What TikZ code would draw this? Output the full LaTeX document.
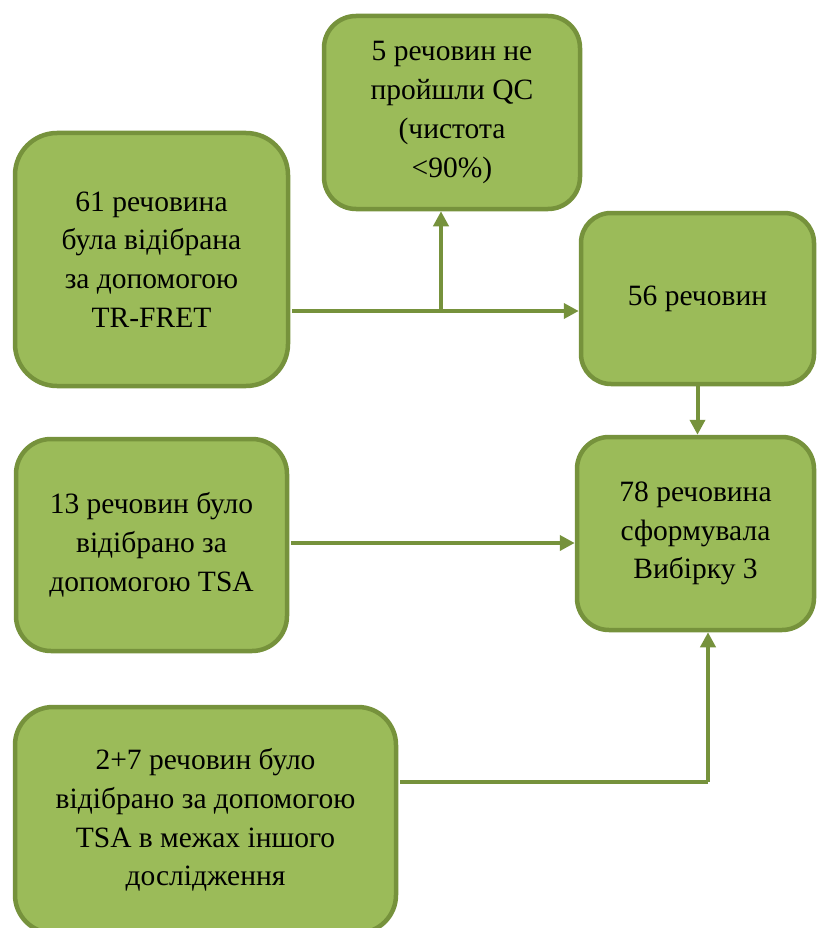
\documentclass[tikz,border=0pt]{standalone}
\usepackage{fontspec}
\setmainfont{Liberation Serif}
\usetikzlibrary{arrows.meta}
\definecolor{boxfill}{HTML}{9BBB59}
\definecolor{boxline}{HTML}{76923C}
\begin{document}
\begin{tikzpicture}[x=1pt,y=-1pt,
  box/.style={draw=boxline,fill=boxfill,line width=4.5pt,rounded corners=#1,
    align=center,inner sep=0pt,font=\fontsize{29.5}{38.8}\selectfont},
  box/.default=35pt,
  arr/.style={draw=boxline,line width=4pt,-{Triangle[length=15pt,width=15pt]}},
  ln/.style={draw=boxline,line width=4pt}]
\useasboundingbox (0,0) rectangle (817,928);
\node[box=42pt,minimum width=273pt,minimum height=253pt] (A) at (151.5,259.5)
  {61 речовина\\була відібрана\\за допомогою\\TR-FRET};
\node[box=32pt,minimum width=256pt,minimum height=193pt] (QC) at (452,112.5)
  {5 речовин не\\пройшли QC\\(чистота\\<90\%)};
\node[box=30pt,minimum width=233pt,minimum height=171pt] (B) at (697.5,298.5)
  {56 речовин};
\node[box=32pt,minimum width=237pt,minimum height=193pt] (C) at (695.5,533.5)
  {78 речовина\\сформувала\\Вибірку 3};
\node[box=35pt,minimum width=271pt,minimum height=212pt] (D) at (151.5,545)
  {13 речовин було\\відібрано за\\допомогою TSA};
\node[box=38pt,minimum width=381pt,minimum height=226pt] (E) at (205.5,820)
  {2+7 речовин було\\відібрано за допомогою\\TSA в межах іншого\\дослідження};
\coordinate (j1) at (441,311);
\coordinate (j2) at (0,543);
\coordinate (k) at (708,782);
\draw[arr,shorten <=2pt] (A.east |- j1) -- (B.west |- j1);
\draw[arr] (j1) -- (QC.south -| j1);
\draw[arr] (B.south) -- (B.south |- C.north);
\draw[arr,shorten <=2pt] (D.east |- j2) -- (C.west |- j2);
\draw[ln,shorten <=2pt] (E.east |- k) -- (k);
\draw[arr] (k) -- (k |- C.south);
\end{tikzpicture}
\end{document}
